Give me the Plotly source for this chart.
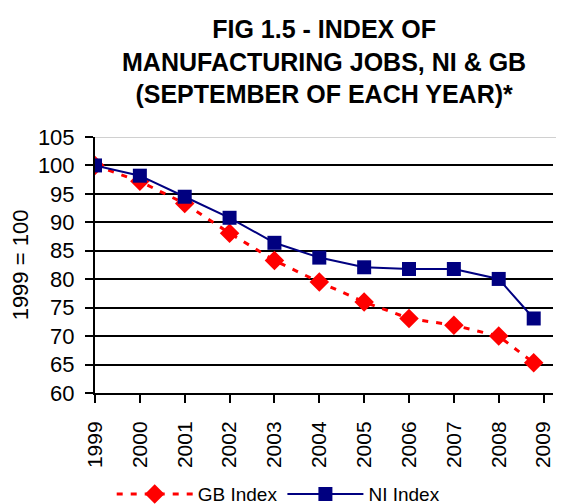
import plotly.graph_objects as go

years = [1999, 2000, 2001, 2002, 2003, 2004, 2005, 2006, 2007, 2008, 2008.78]
gb_index = [100, 97.2, 93.3, 88.1, 83.3, 79.5, 76.0, 73.1, 71.9, 70.0, 65.3]
ni_index = [100, 98.2, 94.5, 90.8, 86.4, 83.8, 82.1, 81.8, 81.8, 80.05, 73.1]
tick_years = [1999, 2000, 2001, 2002, 2003, 2004, 2005, 2006, 2007, 2008, 2009]
y_ticks = [60, 65, 70, 75, 80, 85, 90, 95, 100, 105]
title_text = "FIG 1.5 - INDEX OF<br>MANUFACTURING JOBS, NI &amp; GB<br>(SEPTEMBER OF EACH YEAR)*"

FONT = "Liberation Sans, Arial, sans-serif"

fig = go.Figure()
fig.add_trace(go.Scatter(
    x=years, y=gb_index, name="GB Index", mode="lines+markers",
    line=dict(color="#FF0000", width=3, dash="6px,8px"),
    marker=dict(symbol="diamond", size=15, color="#FF0000"),
))
fig.add_trace(go.Scatter(
    x=years, y=ni_index, name="NI Index", mode="lines+markers",
    line=dict(color="#000080", width=2),
    marker=dict(symbol="square", size=14, color="#000080"),
))

# page has an 8px body margin, so the figure is 556x496 placed at (8, 8)
fig.update_layout(
    width=556, height=496,
    margin=dict(l=87, r=11, t=129, b=111, autoexpand=False),
    paper_bgcolor="white", plot_bgcolor="white",
    font=dict(family=FONT, color="black"),
    showlegend=True,
    legend=dict(
        orientation="h", x=0.4, xanchor="center", y=-0.395, yanchor="middle",
        font=dict(family=FONT, size=19, color="black"),
        bgcolor="rgba(0,0,0,0)", itemwidth=76,
    ),
    xaxis=dict(
        range=[1999, 2009.21], automargin=False,
        tickmode="array", tickvals=tick_years, ticktext=[str(t) for t in tick_years],
        tickangle=-90, tickfont=dict(family=FONT, size=21, color="black"),
        ticklabelstandoff=10,
        showgrid=False, zeroline=False,
        showline=True, linecolor="black", linewidth=2,
        ticks="outside", ticklen=8, tickwidth=2, tickcolor="black",
    ),
    yaxis=dict(
        range=[60, 105], automargin=False,
        tickmode="array", tickvals=y_ticks,
        tickfont=dict(family=FONT, size=22, color="black"),
        ticklabelstandoff=6,
        showgrid=True, gridcolor="black", gridwidth=2,
        zeroline=False,
        showline=True, linecolor="black", linewidth=2,
        ticks="outside", ticklen=8, tickwidth=2, tickcolor="black",
        title=dict(text="1999 = 100", font=dict(family=FONT, size=22, color="black"), standoff=8),
    ),
    annotations=[dict(
        text=title_text, xref="paper", yref="paper", x=0.5, y=1.0,
        yshift=124, xanchor="center", yanchor="top", showarrow=False,
        font=dict(family=FONT, size=25, color="black", weight="bold"),
        align="center",
    )],
)

fig.add_shape(type="line", xref="paper", yref="y", x0=0, x1=1.02, y0=105, y1=105,
              line=dict(color="#C0C0C0", width=1.5), layer="above")

fig.write_html("out.html")
